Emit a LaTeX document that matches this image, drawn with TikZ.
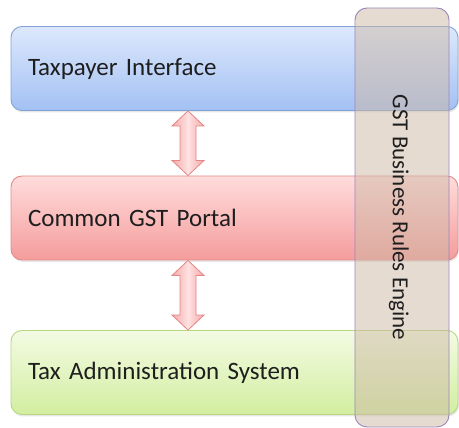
\documentclass[tikz,border=0pt]{standalone}
\usepackage{fontspec}
\setmainfont{Carlito}
\usetikzlibrary{calc,shadows}

\definecolor{txt}{HTML}{1E1E1E}
\definecolor{blueTop}{HTML}{DDE8FC}
\definecolor{blueBot}{HTML}{A3C1F3}
\definecolor{blueEdge}{HTML}{7FA3D9}
\definecolor{redTop}{HTML}{FFDCDC}
\definecolor{redBot}{HTML}{F59C9C}
\definecolor{redEdge}{HTML}{E38A8A}
\definecolor{greenTop}{HTML}{F3FBE3}
\definecolor{greenBot}{HTML}{D2EEA0}
\definecolor{greenEdge}{HTML}{B6D780}
\definecolor{engFill}{HTML}{CDB8A4}
\definecolor{engEdge}{HTML}{9A86BB}
\definecolor{arrMid}{HTML}{FFE2E2}
\definecolor{arrSide}{HTML}{F5A8A8}
\definecolor{arrEdge}{HTML}{E48686}

\tikzset{
  x=1pt, y=1pt,
  layer/.style={rounded corners=11pt, line width=0.9pt,
    minimum width=447pt, minimum height=84pt,
    inner xsep=17pt, text width=413pt, align=left,
    font=\fontsize{25}{28}\selectfont, text=txt,
    drop shadow={opacity=0.18, shadow xshift=1pt, shadow yshift=-2pt}},
  bluelayer/.style={layer, draw=blueEdge, top color=blueTop, bottom color=blueBot},
  redlayer/.style={layer, draw=redEdge, top color=redTop, bottom color=redBot},
  greenlayer/.style={layer, draw=greenEdge, top color=greenTop, bottom color=greenBot},
  enginebox/.style={rounded corners=12pt, line width=0.9pt, draw=engEdge,
    fill=engFill, fill opacity=0.5, text opacity=1,
    minimum width=94pt, minimum height=419pt, inner sep=0pt},
  blockarrow/.style={draw=arrEdge, line width=0.8pt, left color=arrSide,
    right color=arrSide, middle color=arrMid, line join=miter},
}

% vertical two-headed block arrow between two named points (top, bottom)
\newcommand\twowayarrow[2]{%
  \draw[blockarrow] let \p1=(#1), \p2=(#2) in
    (\x1,\y1) -- (\x1+16,\y1-15) -- (\x1+8,\y1-15) -- (\x1+8,\y2+15)
    -- (\x1+16,\y2+15) -- (\x2,\y2) -- (\x1-16,\y2+15) -- (\x1-8,\y2+15)
    -- (\x1-8,\y1-15) -- (\x1-16,\y1-15) -- cycle;}

\begin{document}
\begin{tikzpicture}
  \useasboundingbox (0,0) rectangle (459,428);

  % the three stacked layers
  \node[bluelayer]  (tp) at (234.5,359.5) {Taxpayer Interface};
  \node[redlayer]   (cp) at (234.5,210)   {Common GST Portal};
  \node[greenlayer] (ta) at (234.5,55.5)  {Tax Administration System};

  % two-way links between the layers
  \coordinate (ax) at (188,0);
  \coordinate (a1) at (tp.south -| ax);
  \coordinate (a2) at (cp.north -| ax);
  \coordinate (a3) at (cp.south -| ax);
  \coordinate (a4) at (ta.north -| ax);
  \twowayarrow{a1}{a2}
  \twowayarrow{a3}{a4}

  % rules engine spanning all layers
  \node[enginebox] (eng) at (402,210.5) {};
  \node[rotate=-90, font=\fontsize{23}{26}\selectfont, text=txt]
    (engl) at (399,210.5) {GST Business Rules Engine};
\end{tikzpicture}
\end{document}
